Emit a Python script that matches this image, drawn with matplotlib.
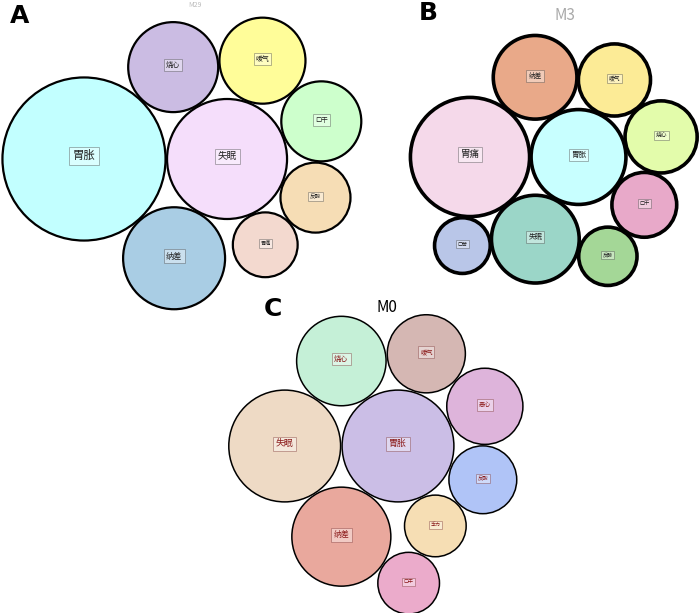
import numpy as np
import matplotlib
matplotlib.use("Agg")
import matplotlib.pyplot as plt
from matplotlib.patches import Circle

plt.rcParams['font.family'] = ['Noto Sans CJK SC', 'DejaVu Sans']

# symptom frequencies (circle area ~ value)
a_labels = ["胃胀", "失眠", "烧心", "纳差", "嗳气", "口干", "反酸", "胃痛"]
a_values = [266, 144, 81, 104, 74, 64, 49, 42]
a_colors = ["#C2FFFF", "#F5DEFB", "#CBBCE3", "#A9CDE4", "#FFFD99", "#CDFFCC", "#F6DDB5", "#F3D9CF"]

b_labels = ["胃痛", "胃胀", "纳差", "失眠", "嗳气", "烧心", "口干", "反酸", "口苦"]
b_values = [142, 90, 70, 77, 52, 52, 42, 34, 31]
b_colors = ["#F5D9EA", "#C8FFFF", "#E9A989", "#9BD6C8", "#FCEB96", "#E3FCAB", "#E8A9C9", "#A4D797", "#B9C6E8"]

c_labels = ["胃胀", "失眠", "烧心", "纳差", "嗳气", "恶心", "反酸", "乏力", "口干"]
c_values = [125, 125, 80, 98, 61, 58, 46, 38, 38]
c_colors = ["#CBBEE6", "#EEDAC5", "#C5F0D7", "#E9A89D", "#D5B7B3", "#DEB4DB", "#B0C4F7", "#F6DEB4", "#EBABCB"]

SCALE = 5.0   # px radius per sqrt(value)
GAP = 1.5


def pack(values, anchor, first_dir, links):
    """place circles: first at anchor, second touching it in first_dir,
    the rest tangent to two placed circles (i, j, side)."""
    r = SCALE * np.sqrt(np.array(values, dtype=float))
    c = np.zeros((len(values), 2))
    c[0] = anchor
    ang = np.deg2rad(first_dir)
    c[1] = c[0] + (r[0] + r[1] + GAP) * np.array([np.cos(ang), np.sin(ang)])
    for k, (i, j, s) in enumerate(links, start=2):
        d1 = r[i] + r[k] + GAP
        d2 = r[j] + r[k] + GAP
        v = c[j] - c[i]
        d = np.hypot(*v)
        u = v / d
        n = np.array([-u[1], u[0]])
        a = (d1 ** 2 - d2 ** 2 + d ** 2) / (2 * d)
        h = np.sqrt(max(d1 ** 2 - a ** 2, 0))
        c[k] = c[i] + a * u + s * h * n
    return c, r


def draw(ax, labels, values, colors, anchor, first_dir, links, lw, txt_color, box_edge):
    cs, rs = pack(values, anchor, first_dir, links)
    for lab, col, (x, y), r in zip(labels, colors, cs, rs):
        ax.add_patch(Circle((x, y), r, facecolor=col, edgecolor="black", lw=lw))
        ax.text(x, y - 0.04 * r, lab, ha="center", va="center",
                fontsize=min(max(r * 0.115, 3.6), 8.2),
                color=txt_color,
                bbox=dict(boxstyle="square,pad=0.3", fc="white", alpha=0.4,
                          ec=box_edge, lw=0.7))


fig = plt.figure(figsize=(7, 6.13), dpi=100)
ax = fig.add_axes([0, 0, 1, 1])
ax.set_xlim(0, 700)
ax.set_ylim(613, 0)
ax.axis("off")

draw(ax, a_labels, a_values, a_colors, (84, 159), 0,
     [(0, 1, -1), (0, 1, 1), (2, 1, -1), (4, 1, -1), (5, 1, -1), (6, 1, -1)],
     1.6, "#222222", "#444444")
draw(ax, b_labels, b_values, b_colors, (470, 157), 0,
     [(0, 1, -1), (0, 1, 1), (2, 1, -1), (4, 1, -1), (5, 1, -1), (6, 3, -1), (0, 3, 1)],
     2.6, "#222222", "#444444")
draw(ax, c_labels, c_values, c_colors, (398, 446), 180,
     [(0, 1, 1), (0, 1, -1), (2, 0, -1), (4, 0, -1), (5, 0, -1), (6, 0, -1), (7, 3, -1)],
     1.1, "#8B1A1A", "#7A3030")

ax.text(10, 16, "A", fontsize=18, fontweight="bold", ha="left", va="center", family="DejaVu Sans")
ax.text(428, 13, "B", fontsize=18, fontweight="bold", ha="center", va="center", family="DejaVu Sans")
ax.text(273, 309, "C", fontsize=18, fontweight="bold", ha="center", va="center", family="DejaVu Sans")

ax.text(195, 5, "M29", fontsize=5, color="#BBBBBB", ha="center", va="center")
ax.text(565, 15, "M3", fontsize=11, color="#AAAAAA", ha="center", va="center")
ax.text(387, 308, "M0", fontsize=11, color="black", ha="center", va="center")

fig.savefig("out.png", dpi=100)
